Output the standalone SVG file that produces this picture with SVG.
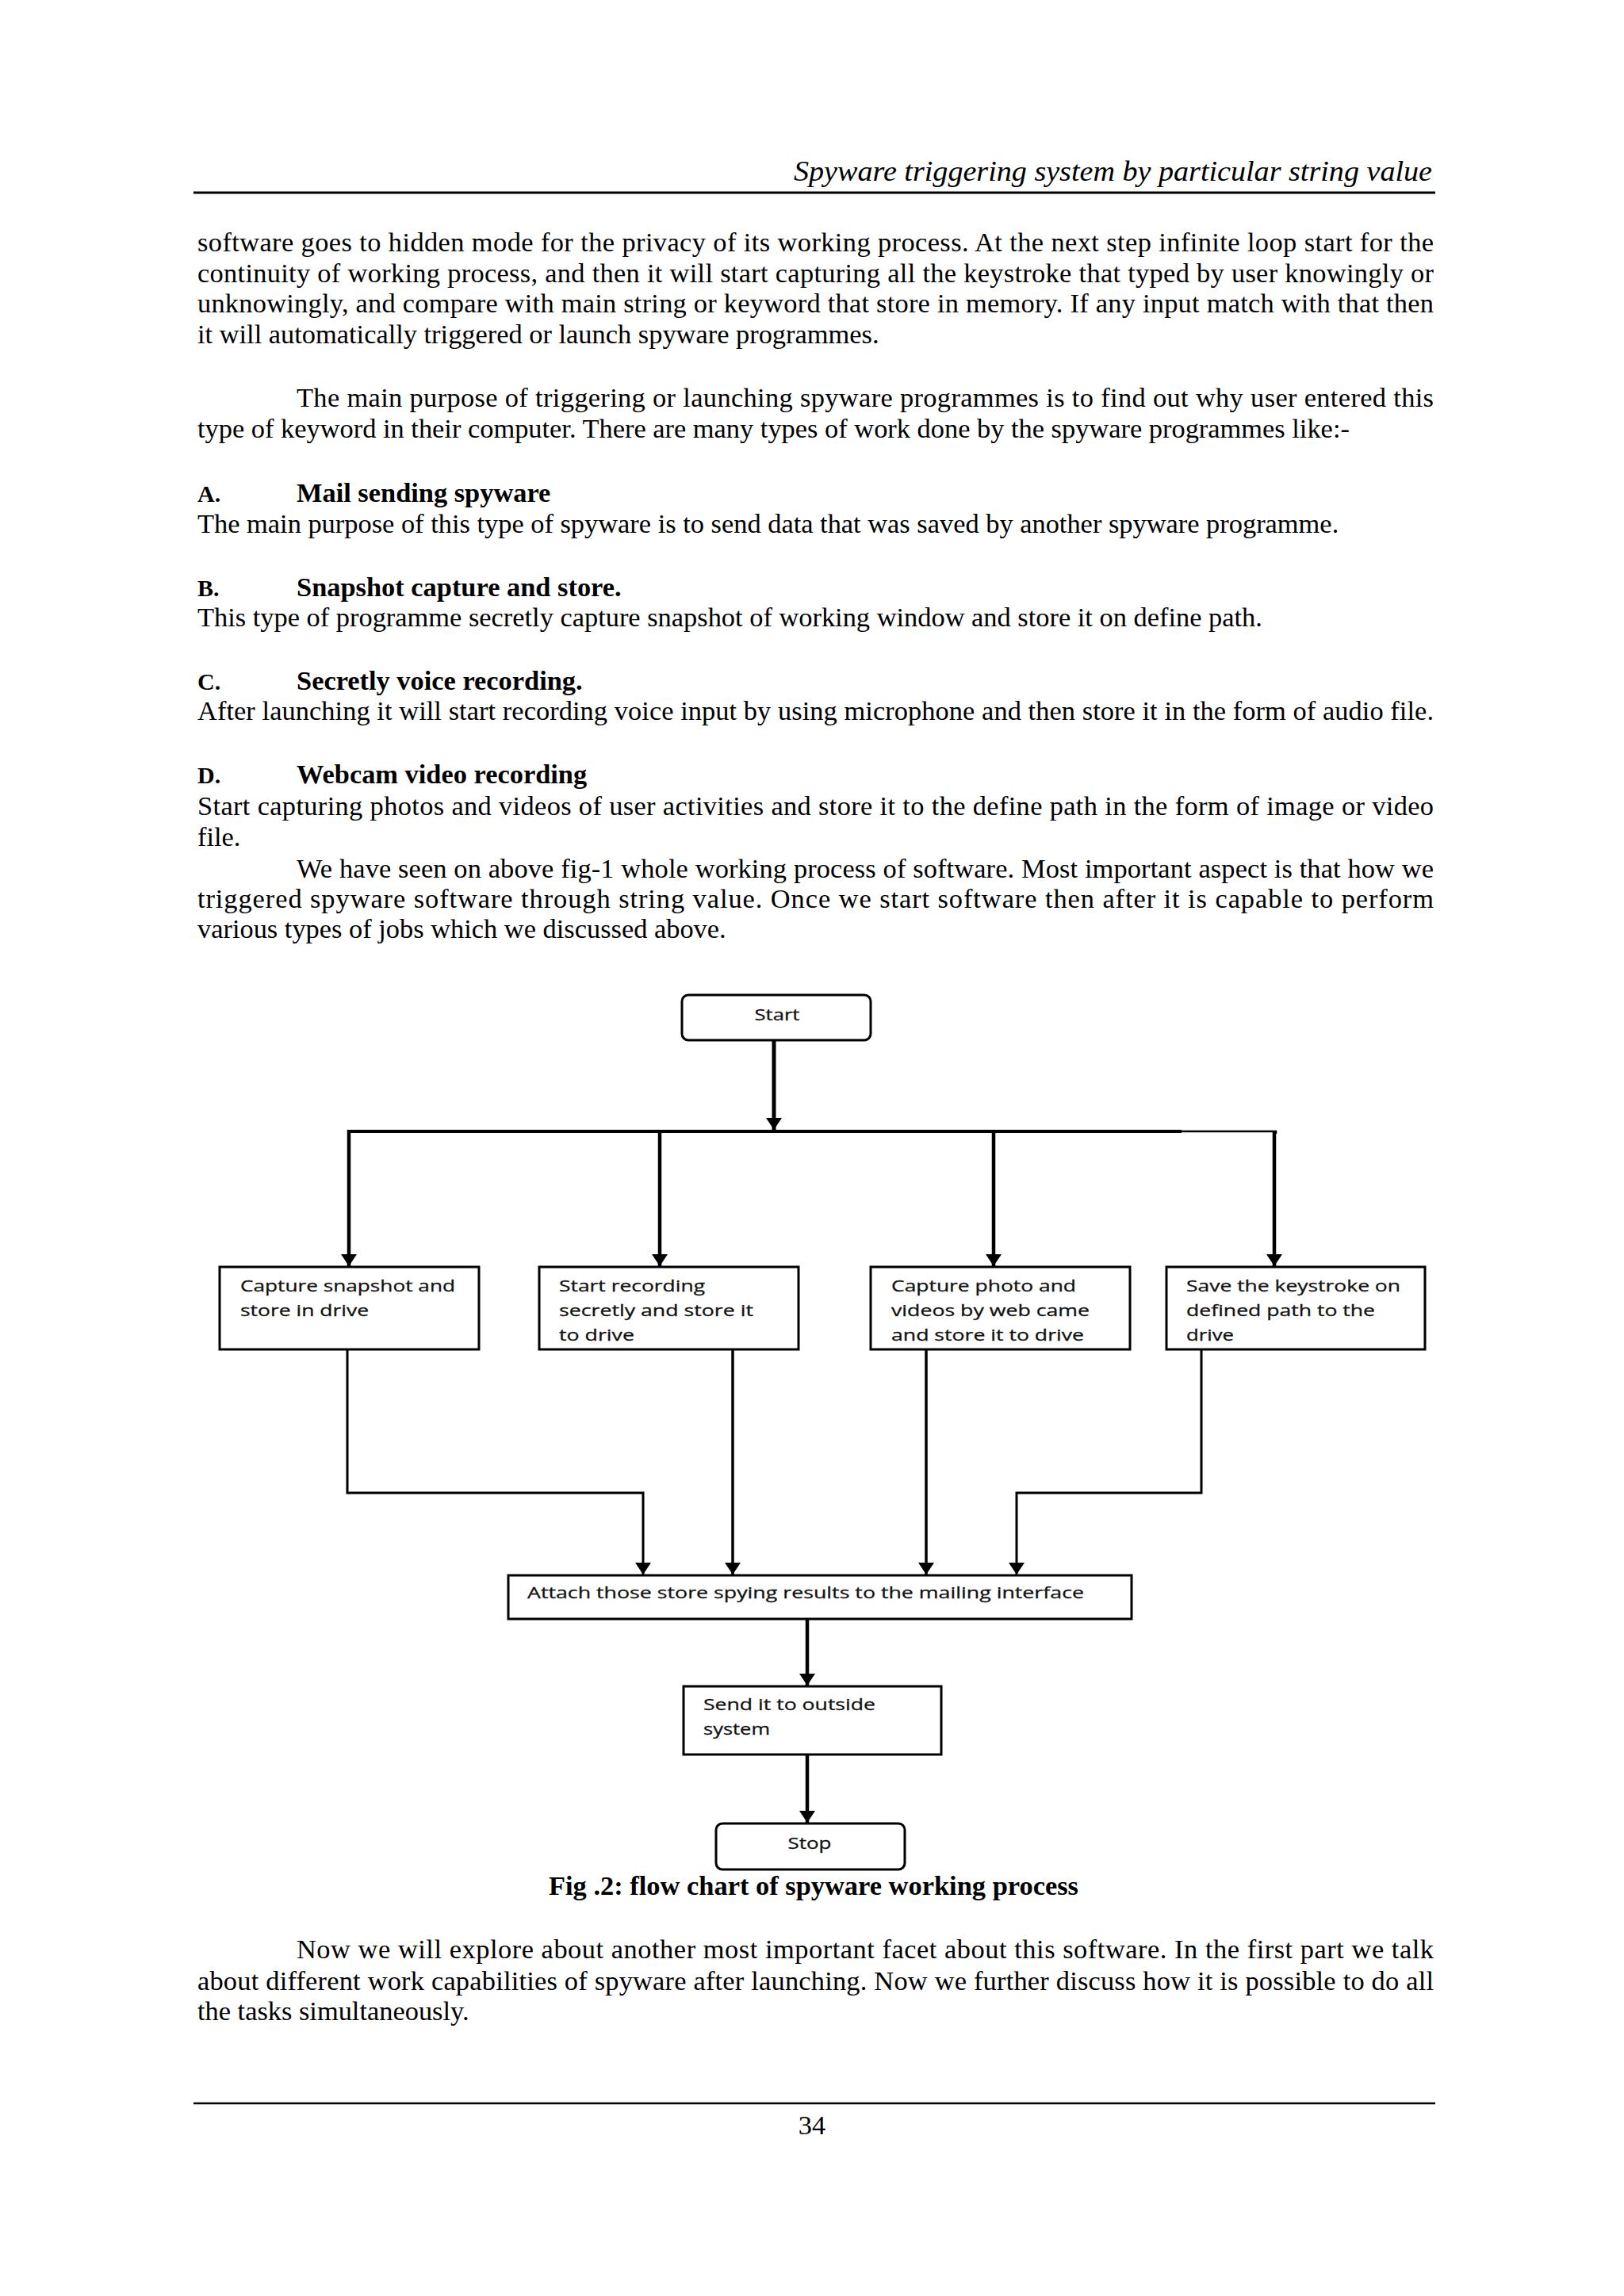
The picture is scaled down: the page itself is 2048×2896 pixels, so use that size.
<svg xmlns="http://www.w3.org/2000/svg" width="2048" height="2896" viewBox="0 0 2048 2896">
<style>
.body{font-family:"Liberation Serif","Times New Roman",serif;font-size:34.4px;fill:#000}
.bold{font-weight:bold}
.lbl{font-family:"Liberation Serif","Times New Roman",serif;font-size:30px;font-weight:bold;fill:#000}
.hdr{font-family:"Liberation Serif","Times New Roman",serif;font-size:35px;font-style:italic;fill:#000}
.fc{font-family:"Open Sans","DejaVu Sans",sans-serif;font-size:20.5px;fill:#111;stroke:#111;stroke-width:0.3}
.box{fill:#fff;stroke:#000;stroke-width:3}
.conn{fill:none;stroke:#000;stroke-linejoin:miter;stroke-linecap:butt}
</style>
<defs>
<marker id="ah" viewBox="0 0 15 20" refX="15" refY="10" markerWidth="15" markerHeight="20" orient="auto" markerUnits="userSpaceOnUse">
<path d="M0,0 L15,10 L0,20 Z" fill="#000"/>
</marker>
</defs>
<rect width="2048" height="2896" fill="#fff"/>

<g id="page-header">
<text class="hdr" x="1806" y="228" text-anchor="end" textLength="805" lengthAdjust="spacingAndGlyphs">Spyware triggering system by particular string value</text>
<line x1="244" y1="243" x2="1810" y2="243" stroke="#000" stroke-width="3"/>
</g>

<g id="body-text-top">
<text class="body" x="249" y="317" textLength="1559" lengthAdjust="spacing">software goes to hidden mode for the privacy of its working process. At the next step infinite loop start for the</text>
<text class="body" x="249" y="356" textLength="1559" lengthAdjust="spacing">continuity of working process, and then it will start capturing all the keystroke that typed by user knowingly or</text>
<text class="body" x="249" y="394" textLength="1559" lengthAdjust="spacing">unknowingly, and compare with main string or keyword that store in memory. If any input match with that then</text>
<text class="body" x="249" y="433">it will automatically triggered or launch spyware programmes.</text>

<text class="body" x="374" y="513" textLength="1434" lengthAdjust="spacing">The main purpose of triggering or launching spyware programmes is to find out why user entered this</text>
<text class="body" x="249" y="552">type of keyword in their computer. There are many types of work done by the spyware programmes like:-</text>

<text class="lbl" x="249" y="633">A.</text>
<text class="body bold" x="374" y="633">Mail sending spyware</text>
<text class="body" x="249" y="672">The main purpose of this type of spyware is to send data that was saved by another spyware programme.</text>

<text class="lbl" x="249" y="752">B.</text>
<text class="body bold" x="374" y="752">Snapshot capture and store.</text>
<text class="body" x="249" y="790">This type of programme secretly capture snapshot of working window and store it on define path.</text>

<text class="lbl" x="249" y="870">C.</text>
<text class="body bold" x="374" y="870">Secretly voice recording.</text>
<text class="body" x="249" y="908" textLength="1559" lengthAdjust="spacing">After launching it will start recording voice input by using microphone and then store it in the form of audio file.</text>

<text class="lbl" x="249" y="988">D.</text>
<text class="body bold" x="374" y="988">Webcam video recording</text>
<text class="body" x="249" y="1028" textLength="1559" lengthAdjust="spacing">Start capturing photos and videos of user activities and store it to the define path in the form of image or video</text>
<text class="body" x="249" y="1067">file.</text>
<text class="body" x="374" y="1107" textLength="1434" lengthAdjust="spacing">We have seen on above fig-1 whole working process of software. Most important aspect is that how we</text>
<text class="body" x="249" y="1145" textLength="1559" lengthAdjust="spacing">triggered spyware software through string value. Once we start software then after it is capable to perform</text>
<text class="body" x="249" y="1183">various types of jobs which we discussed above.</text>
</g>

<g id="connectors">
<line class="conn" x1="976" y1="1312" x2="976" y2="1425" stroke-width="5" marker-end="url(#ah)"/>
<line class="conn" x1="438" y1="1427" x2="1490" y2="1427" stroke-width="4"/>
<polyline class="conn" points="1490,1427 1609,1427 1609,1430" stroke-width="2.5"/>
<line class="conn" x1="440" y1="1425" x2="440" y2="1597" stroke-width="4.5" marker-end="url(#ah)"/>
<line class="conn" x1="832" y1="1425" x2="832" y2="1597" stroke-width="4.5" marker-end="url(#ah)"/>
<line class="conn" x1="1253" y1="1425" x2="1253" y2="1597" stroke-width="4.5" marker-end="url(#ah)"/>
<line class="conn" x1="1607" y1="1426" x2="1607" y2="1597" stroke-width="4.5" marker-end="url(#ah)"/>
<polyline class="conn" points="438,1702 438,1883 811,1883 811,1986" stroke-width="3" marker-end="url(#ah)"/>
<line class="conn" x1="924" y1="1702" x2="924" y2="1986" stroke-width="3.5" marker-end="url(#ah)"/>
<line class="conn" x1="1168" y1="1702" x2="1168" y2="1986" stroke-width="3.5" marker-end="url(#ah)"/>
<polyline class="conn" points="1515,1702 1515,1883 1282,1883 1282,1986" stroke-width="3" marker-end="url(#ah)"/>
<line class="conn" x1="1018" y1="2042" x2="1018" y2="2126" stroke-width="4.5" marker-end="url(#ah)"/>
<line class="conn" x1="1018" y1="2213" x2="1018" y2="2299" stroke-width="4.5" marker-end="url(#ah)"/>
</g>

<g id="node-start">
<rect class="box" x="860" y="1255" width="238" height="57" rx="8"/>
<text class="fc" x="980" y="1287" text-anchor="middle" textLength="57" lengthAdjust="spacingAndGlyphs">Start</text>
</g>

<g id="node-snapshot">
<rect class="box" x="277" y="1598" width="327" height="104"/>
<text class="fc" x="303" y="1629" textLength="271" lengthAdjust="spacingAndGlyphs">Capture snapshot and</text>
<text class="fc" x="303" y="1660" textLength="162" lengthAdjust="spacingAndGlyphs">store in drive</text>
</g>

<g id="node-recording">
<rect class="box" x="680" y="1598" width="327" height="104"/>
<text class="fc" x="705" y="1629" textLength="184" lengthAdjust="spacingAndGlyphs">Start recording</text>
<text class="fc" x="705" y="1660" textLength="245" lengthAdjust="spacingAndGlyphs">secretly and store it</text>
<text class="fc" x="705" y="1691" textLength="95" lengthAdjust="spacingAndGlyphs">to drive</text>
</g>

<g id="node-webcam">
<rect class="box" x="1098" y="1598" width="327" height="104"/>
<text class="fc" x="1124" y="1629" textLength="233" lengthAdjust="spacingAndGlyphs">Capture photo and</text>
<text class="fc" x="1124" y="1660" textLength="250" lengthAdjust="spacingAndGlyphs">videos by web came</text>
<text class="fc" x="1124" y="1691" textLength="243" lengthAdjust="spacingAndGlyphs">and store it to drive</text>
</g>

<g id="node-keystroke">
<rect class="box" x="1471" y="1598" width="326" height="104"/>
<text class="fc" x="1496" y="1629" textLength="270" lengthAdjust="spacingAndGlyphs">Save the keystroke on</text>
<text class="fc" x="1496" y="1660" textLength="238" lengthAdjust="spacingAndGlyphs">defined path to the</text>
<text class="fc" x="1496" y="1691" textLength="60" lengthAdjust="spacingAndGlyphs">drive</text>
</g>

<g id="node-attach">
<rect class="box" x="641" y="1987" width="786" height="55"/>
<text class="fc" x="665" y="2016" textLength="702" lengthAdjust="spacingAndGlyphs">Attach those store spying results to the mailing interface</text>
</g>

<g id="node-send">
<rect class="box" x="862" y="2127" width="325" height="86"/>
<text class="fc" x="887" y="2157" textLength="217" lengthAdjust="spacingAndGlyphs">Send it to outside</text>
<text class="fc" x="887" y="2188" textLength="84" lengthAdjust="spacingAndGlyphs">system</text>
</g>

<g id="node-stop">
<rect class="box" x="903" y="2300" width="238" height="58" rx="8"/>
<text class="fc" x="1021" y="2332" text-anchor="middle" textLength="55" lengthAdjust="spacingAndGlyphs">Stop</text>
</g>

<g id="caption">
<text class="body bold" x="1026" y="2390" text-anchor="middle" textLength="668" lengthAdjust="spacingAndGlyphs">Fig .2: flow chart of spyware working process</text>
</g>

<g id="body-text-bottom">
<text class="body" x="374" y="2470" textLength="1434" lengthAdjust="spacing">Now we will explore about another most important facet about this software. In the first part we talk</text>
<text class="body" x="249" y="2510" textLength="1559" lengthAdjust="spacing">about different work capabilities of spyware after launching. Now we further discuss how it is possible to do all</text>
<text class="body" x="249" y="2548">the tasks simultaneously.</text>
</g>

<g id="page-footer">
<line x1="244" y1="2653" x2="1810" y2="2653" stroke="#000" stroke-width="2.5"/>
<text class="body" x="1024" y="2692" text-anchor="middle" font-size="36">34</text>
</g>
</svg>
